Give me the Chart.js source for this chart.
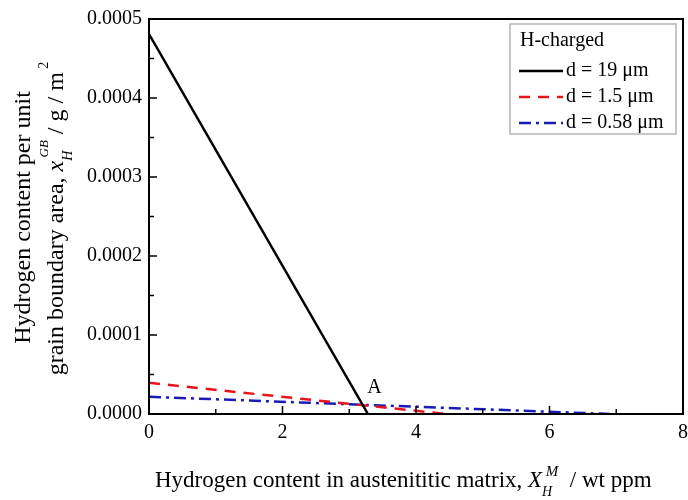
<!DOCTYPE html>
<html>
<head>
<meta charset="utf-8">
<script src="https://cdn.jsdelivr.net/npm/chart.js@4.4.0/dist/chart.umd.min.js"></script>
<style>
  html, body { margin: 0; padding: 0; background: #fff; }
  #wrap { width: 688px; height: 500px; }
</style>
</head>
<body>
<div id="wrap"><canvas id="chart" width="688" height="500"></canvas></div>
<script>
// grain size series: [x (wt ppm), y (g/m^2)] end points
const seriesNames = ['d = 19 \u03bcm', 'd = 1.5 \u03bcm', 'd = 0.58 \u03bcm'];
const d19 = [[0, 0.000481], [3.28, 0]];
const d15 = [[0, 0.0000395], [4.45, 0]];
const d058 = [[0, 0.0000218], [6.9, 0]];
const xMajorTicks = [0, 2, 4, 6, 8];
const xMinorTicks = [1, 3, 5, 7];
const yMajorTicks = [0, 0.0001, 0.0002, 0.0003, 0.0004, 0.0005];
const yMinorTicks = [0.00005, 0.00015, 0.00025, 0.00035, 0.00045];
const legendTitle = 'H-charged';
const pointLabel = { text: 'A', x: 3.27, y: 0.0000265 };

const serif = '"Liberation Serif", "Times New Roman", serif';
const colors = ['#000000', '#e8141c', '#1a1ab4'];
const dashes = [[], [11, 8], [12, 5, 3, 5]];

const toPoints = arr => arr.map(([x, y]) => ({ x, y }));

const datasets = [d19, d15, d058].map((d, i) => ({
    label: seriesNames[i],
    data: toPoints(d),
    borderColor: colors[i],
    backgroundColor: colors[i],
    borderWidth: 2.5,
    borderDash: dashes[i],
    pointRadius: 0,
    showLine: true,
    tension: 0
}));

// frame, inside ticks, axis titles, legend box and the "A" label
const decorations = {
    id: 'decorations',
    afterDatasetsDraw(chart) {
        const { ctx, chartArea: a, scales: { x, y } } = chart;
        ctx.save();
        ctx.strokeStyle = '#000';
        ctx.lineWidth = 2;
        ctx.strokeRect(a.left, a.top, a.right - a.left, a.bottom - a.top);

        ctx.lineWidth = 1.5;
        ctx.beginPath();
        xMajorTicks.forEach(v => { const px = x.getPixelForValue(v); ctx.moveTo(px, a.bottom); ctx.lineTo(px, a.bottom - 8); });
        xMinorTicks.forEach(v => { const px = x.getPixelForValue(v); ctx.moveTo(px, a.bottom); ctx.lineTo(px, a.bottom - 5); });
        yMajorTicks.forEach(v => { const py = y.getPixelForValue(v); ctx.moveTo(a.left, py); ctx.lineTo(a.left + 8, py); });
        yMinorTicks.forEach(v => { const py = y.getPixelForValue(v); ctx.moveTo(a.left, py); ctx.lineTo(a.left + 5, py); });
        ctx.stroke();

        // point label
        ctx.fillStyle = '#000';
        ctx.font = '20px ' + serif;
        ctx.textAlign = 'left';
        ctx.textBaseline = 'alphabetic';
        ctx.fillText(pointLabel.text, x.getPixelForValue(pointLabel.x), y.getPixelForValue(pointLabel.y));

        // legend
        const lx = 510, ly = 24, lw = 166, lh = 110;
        ctx.fillStyle = '#fff';
        ctx.fillRect(lx, ly, lw, lh);
        ctx.strokeStyle = '#b4b4b4';
        ctx.lineWidth = 1.5;
        ctx.strokeRect(lx, ly, lw, lh);
        ctx.fillStyle = '#000';
        ctx.font = '20px ' + serif;
        ctx.textBaseline = 'middle';
        ctx.fillText(legendTitle, lx + 10, ly + 17);
        chart.data.datasets.forEach((ds, i) => {
            const ry = ly + 47 + i * 26;
            ctx.strokeStyle = ds.borderColor;
            ctx.lineWidth = 2.5;
            ctx.setLineDash(ds.borderDash);
            ctx.beginPath();
            ctx.moveTo(lx + 9, ry);
            ctx.lineTo(lx + 53, ry);
            ctx.stroke();
            ctx.setLineDash([]);
            ctx.fillText(ds.label, lx + 56, ry);
        });

        // text runs with sub/superscripts
        const runs = (parts, startX, baseY) => {
            let cx = startX;
            parts.forEach(p => {
                ctx.font = (p.italic ? 'italic ' : '') + p.size + 'px ' + serif;
                ctx.fillText(p.t, cx, baseY + (p.dy || 0));
                if (!p.noAdvance) cx += ctx.measureText(p.t).width;
            });
        };
        const measureRuns = parts => parts.reduce((w, p) => {
            ctx.font = (p.italic ? 'italic ' : '') + p.size + 'px ' + serif;
            return w + (p.noAdvance ? 0 : ctx.measureText(p.t).width);
        }, 0);

        ctx.textBaseline = 'alphabetic';
        ctx.textAlign = 'left';
        const xTitle = [
            { t: 'Hydrogen content in austenititic matrix, ', size: 23 },
            { t: 'X', size: 23, italic: true },
            { t: 'H', size: 14, italic: true, dy: 9, noAdvance: true },
            { t: ' M', size: 15, italic: true, dy: -11 },
            { t: '  / wt ppm', size: 23 }
        ];
        runs(xTitle, 155, 487);

        // y title, two rotated lines
        const midY = (a.top + a.bottom) / 2;
        ctx.save();
        ctx.translate(30, midY);
        ctx.rotate(-Math.PI / 2);
        const y1 = [{ t: 'Hydrogen content per unit', size: 24 }];
        runs(y1, -measureRuns(y1) / 2 - 1, 0);
        ctx.restore();

        ctx.save();
        ctx.translate(63, midY);
        ctx.rotate(-Math.PI / 2);
        const y2 = [
            { t: 'grain boundary area, ', size: 24 },
            { t: 'x', size: 24, italic: true },
            { t: 'H', size: 14, italic: true, dy: 9, noAdvance: true },
            { t: ' GB', size: 13, italic: true, dy: -15 },
            { t: ' / g / m', size: 24 },
            { t: ' 2', size: 14, dy: -15 }
        ];
        runs(y2, -measureRuns(y2) / 2 - 2, 0);
        ctx.restore();

        ctx.restore();
    }
};

new Chart(document.getElementById('chart'), {
    type: 'scatter',
    data: { datasets },
    plugins: [decorations],
    options: {
        responsive: false,
        animation: false,
        layout: { padding: { top: 18, right: 5, left: 0, bottom: 0 } },
        plugins: {
            legend: { display: false },
            tooltip: { enabled: false }
        },
        scales: {
            x: {
                type: 'linear',
                min: 0,
                max: 8,
                grid: { display: false, drawTicks: false },
                border: { display: false },
                afterFit: s => { s.height = 86; s.paddingLeft = 0; s.paddingRight = 0; },
                afterBuildTicks: s => { s.ticks = xMajorTicks.map(v => ({ value: v })); },
                ticks: {
                    color: '#000',
                    padding: 7,
                    font: { family: serif, size: 20 },
                    callback: v => String(v)
                }
            },
            y: {
                type: 'linear',
                min: 0,
                max: 0.0005,
                grid: { display: false, drawTicks: false },
                border: { display: false },
                afterFit: s => { s.width = 149; },
                afterBuildTicks: s => { s.ticks = yMajorTicks.map(v => ({ value: v })); },
                ticks: {
                    color: '#000',
                    padding: 7,
                    font: { family: serif, size: 20 },
                    callback: v => v.toFixed(4)
                }
            }
        }
    }
});
</script>
</body>
</html>
